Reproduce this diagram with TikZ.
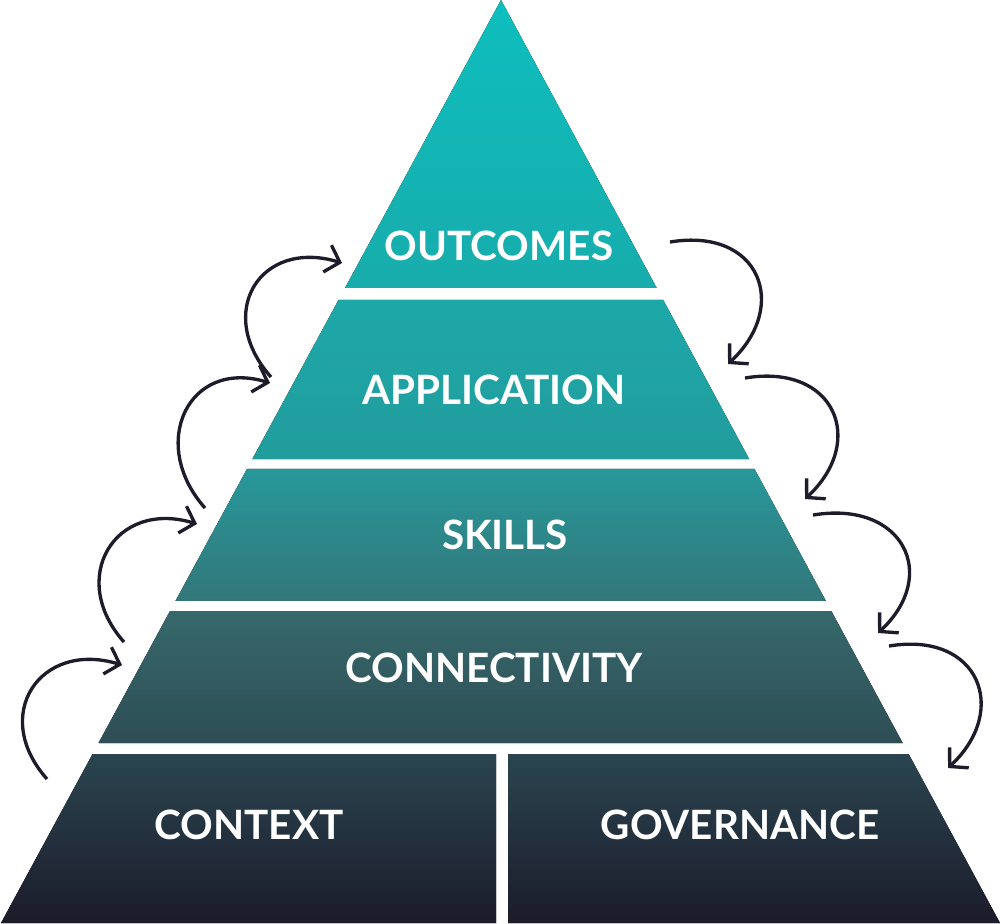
\documentclass[tikz,border=0pt]{standalone}
\usepackage{fontspec}
\setsansfont{Lato}
\usetikzlibrary{arrows.meta,calc}
\definecolor{tierA}{HTML}{0EBEBE}
\definecolor{tierB}{HTML}{18ACAC}
\definecolor{tierC}{HTML}{1DA8A8}
\definecolor{tierD}{HTML}{229C9D}
\definecolor{tierE}{HTML}{27989A}
\definecolor{tierF}{HTML}{33777A}
\definecolor{tierG}{HTML}{36696C}
\definecolor{tierH}{HTML}{2E4D55}
\definecolor{tierI}{HTML}{2A4550}
\definecolor{tierJ}{HTML}{1C1B2A}
\definecolor{inkdark}{HTML}{1E1C2B}
\tikzset{
  loopleft/.style={-{Straight Barb[length=1.3mm,width=2.8mm]}, line width=0.95pt, draw=inkdark},
  loopright/.style={-{Straight Barb[length=1.3mm,width=2.8mm]}, line width=0.95pt, draw=inkdark},
  tierlabel/.style={text=white, font=\fontsize{11.5}{14}\selectfont\sffamily\bfseries, inner sep=0pt},
}

\begin{document}
\begin{tikzpicture}
  \useasboundingbox (0,0) rectangle (10,-9.23);
  \coordinate (apex) at (5.01,0);
  \coordinate (bl) at (0.01,-9.23);
  \coordinate (br) at (10,-9.23);

  % stacked tiers, cut from the outline
  \foreach \ta/\tb/\ctop/\cbot in {0/0.312/tierA/tierB, 0.325/0.4973/tierC/tierD,
      0.5081/0.6511/tierE/tierF, 0.662/0.805/tierG/tierH}
    \fill[top color=\ctop, bottom color=\cbot]
      ($(apex)!\ta!(bl)$) -- ($(apex)!\tb!(bl)$) -- ($(apex)!\tb!(br)$) -- ($(apex)!\ta!(br)$) -- cycle;

  \coordinate (baseL) at ($(apex)!0.8169!(bl)$);
  \coordinate (baseR) at ($(apex)!0.8169!(br)$);
  \fill[top color=tierI, bottom color=tierJ] (baseL) -- (bl) -- (4.96,-9.23) -- (baseL -| 4.96,0) -- cycle;
  \fill[top color=tierI, bottom color=tierJ] (baseL -| 5.08,0) -- (5.08,-9.23) -- (br) -- (baseR) -- cycle;

  \node[tierlabel] (outcomes) at (4.99,-2.46) {OUTCOMES};
  \node[tierlabel] (application) at (4.94,-3.90) {APPLICATION};
  \node[tierlabel] (skills) at (5.05,-5.35) {SKILLS};
  \node[tierlabel] (connectivity) at (4.94,-6.68) {CONNECTIVITY};
  \node[tierlabel] (context) at (2.49,-8.25) {CONTEXT};
  \node[tierlabel] (governance) at (7.40,-8.25) {GOVERNANCE};

  % looping arrows on both flanks
  \foreach \sx/\sy/\ex/\ey [count=\i] in {0.47/-7.79/1.22/-6.65, 1.24/-6.42/1.97/-5.24,
      2.05/-5.08/2.70/-3.83, 2.71/-3.77/3.42/-2.63} {
    \coordinate (ls\i) at (\sx,\sy);
    \coordinate (le\i) at (\ex,\ey);
    \draw[loopleft] (ls\i) .. controls +(-0.57,0.64) and +(-0.82,0.25) .. (le\i);
  }
  \foreach \sx/\sy/\ex/\ey [count=\i] in {6.70/-2.42/7.28/-3.64, 7.45/-3.78/8.05/-4.99,
      8.13/-5.15/8.78/-6.33, 8.89/-6.46/9.48/-7.68} {
    \coordinate (rs\i) at (\sx,\sy);
    \coordinate (re\i) at (\ex,\ey);
    \draw[loopright] (rs\i) .. controls +(0.9,0.15) and +(0.62,0.58) .. (re\i);
  }
\end{tikzpicture}
\end{document}
